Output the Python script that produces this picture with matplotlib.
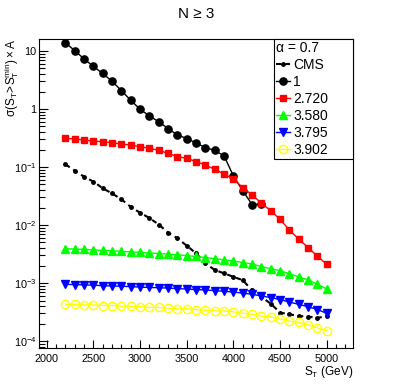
import numpy as np
import matplotlib
matplotlib.use("Agg")
import matplotlib.pyplot as plt
from matplotlib.ticker import FixedLocator, FuncFormatter, MultipleLocator

plt.rcParams.update(
    {
        "font.family": ["Liberation Sans", "DejaVu Sans"],
        "mathtext.fontset": "custom",
        "mathtext.rm": "Liberation Sans",
        "mathtext.it": "Liberation Sans",
        "mathtext.sf": "Liberation Sans",
    }
)

# S_T scan points [GeV]
st = [2200, 2300, 2400, 2500, 2600, 2700, 2800, 2900, 3000, 3100,
      3200, 3300, 3400, 3500, 3600, 3700, 3800, 3900, 4000, 4100,
      4200, 4300, 4400, 4500, 4600, 4700, 4800, 4900, 5000]

cms = [0.111, 0.0865, 0.068, 0.056, 0.043, 0.035, 0.0277, 0.0205, 0.0163, 0.0132,
       0.0102, 0.0074, 0.0059, 0.0044, 0.00325, 0.00219, 0.00168, 0.00147, 0.00128, 0.00112,
       0.00075, 0.00058, 0.00044, 0.00031, 0.00029, 0.00027, 0.000265, 0.00025, 0.00027]

# alpha = 1 curve stops at 4300 GeV
st_1 = st[:22]
xs_1 = [13.9, 10.1, 7.3, 5.4, 4.1, 3.0, 2.07, 1.41, 0.99, 0.76,
        0.6, 0.46, 0.356, 0.31, 0.26, 0.215, 0.194, 0.155, 0.07, 0.039,
        0.0225, 0.023]

xs_2720 = [0.312, 0.304, 0.292, 0.28, 0.273, 0.263, 0.249, 0.239, 0.224, 0.21,
           0.194, 0.172, 0.151, 0.141, 0.124, 0.108, 0.091, 0.076, 0.062, 0.044,
           0.033, 0.0237, 0.0177, 0.0125, 0.0082, 0.0057, 0.0041, 0.0029, 0.0021]

xs_3580 = [0.0039, 0.00385, 0.0038, 0.00372, 0.00365, 0.0036, 0.00352, 0.00345, 0.00338, 0.0033,
           0.00323, 0.00315, 0.00306, 0.00297, 0.00287, 0.00275, 0.00263, 0.00251, 0.0024, 0.00226,
           0.00213, 0.00192, 0.00177, 0.00163, 0.00144, 0.00128, 0.00113, 0.00095, 0.00079]

xs_3795 = [0.00095, 0.00094, 0.00093, 0.00092, 0.0009, 0.00089, 0.00088, 0.00087, 0.00085, 0.00084,
           0.00083, 0.00082, 0.0008, 0.00079, 0.00077, 0.00076, 0.00074, 0.00072, 0.0007, 0.00067,
           0.00064, 0.0006, 0.00056, 0.00052, 0.00047, 0.00043, 0.00039, 0.00035, 0.0003]

xs_3902 = [0.00043, 0.00043, 0.00042, 0.00042, 0.00041, 0.00041, 0.0004, 0.0004, 0.00039, 0.00038,
           0.00038, 0.00037, 0.00036, 0.00036, 0.00035, 0.00034, 0.00033, 0.00033, 0.00032, 0.0003,
           0.00029, 0.00027, 0.00026, 0.00024, 0.00022, 0.00021, 0.00019, 0.00017, 0.00015]

fig = plt.figure(figsize=(3.93, 3.87), dpi=100)
ax = fig.add_axes([0.1, 0.1008, 0.798, 0.7997])

ax.plot(st, cms, color="black", linestyle=(0, (2.5, 2)), linewidth=1.5,
        marker="o", markersize=2.5, label="CMS")
ax.plot(st_1, xs_1, color="black", linewidth=1, marker="o", markersize=5.2, label="1")
ax.plot(st, xs_2720, color="red", linewidth=1, marker="s", markersize=5, label="2.720")
ax.plot(st, xs_3580, color="#00ff00", linewidth=1, marker="^", markersize=5.5, label="3.580")
ax.plot(st, xs_3795, color="blue", linewidth=1, marker="v", markersize=5.5, label="3.795")
ax.plot(st, xs_3902, color="#ffff00", linewidth=1, marker="o", markersize=6,
        markerfacecolor="none", markeredgecolor="#ffff00", markeredgewidth=1, label="3.902")

ax.set_yscale("log")
ax.set_xlim(1920, 5280)
ax.set_ylim(7.6e-5, 16.4)

ax.xaxis.set_major_locator(MultipleLocator(500))
ax.xaxis.set_minor_locator(MultipleLocator(100))
ax.yaxis.set_major_locator(FixedLocator([1e-4, 1e-3, 1e-2, 1e-1, 1, 10]))
ax.yaxis.set_minor_locator(FixedLocator(
    [m * 10.0 ** e for e in range(-5, 2) for m in range(2, 10)]))


def ylab(v, pos):
    if v == 10:
        return "10"
    if v == 1:
        return "1"
    return r"$10^{%d}$" % int(round(np.log10(v)))


ax.yaxis.set_major_formatter(FuncFormatter(ylab))
ax.yaxis.set_minor_formatter(FuncFormatter(lambda v, p: ""))
ax.tick_params(which="both", direction="in", top=False, right=False, labelsize=7.8, width=0.8)
ax.tick_params(axis="x", which="major", length=6, pad=4)
ax.tick_params(axis="x", which="minor", length=3)
ax.tick_params(axis="y", which="major", length=6.5, pad=2)
ax.tick_params(axis="y", which="minor", length=4)

ax.set_xlabel(r"$\mathrm{S_{T}}$ (GeV)", fontsize=8.5, loc="right", labelpad=0)
ax.set_ylabel(r"$\mathrm{\sigma(S_{T}\!>\!S_{T}^{min})\times A}$", fontsize=8.5, loc="top")
ax.yaxis.set_label_coords(-0.058, 1.0)

fig.text(0.499, 1 - 13.5 / 387, "N \u2265 3", ha="center", va="center", fontsize=11)

leg = ax.legend(loc="upper left", bbox_to_anchor=(0.749, 0.0, 0.251, 1.0), mode="expand",
                borderaxespad=0, fontsize=10, title="\u03b1 = 0.7", title_fontsize=10,
                alignment="left", fancybox=False, edgecolor="black", framealpha=1,
                labelspacing=0.22, borderpad=0.15, handlelength=1.0, handletextpad=0.2)
leg.get_frame().set_linewidth(0.8)

fig.savefig("out.png", dpi=100)
